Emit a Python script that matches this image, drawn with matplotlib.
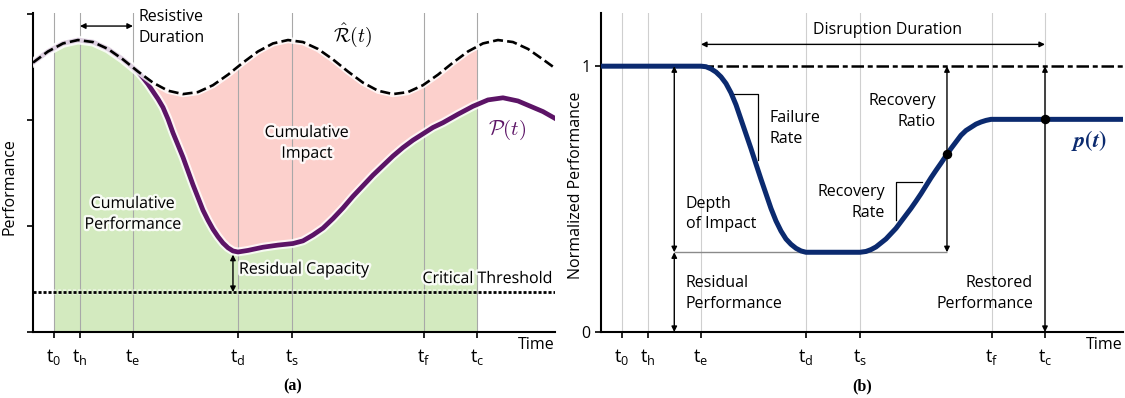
import matplotlib
matplotlib.use('Agg')
import matplotlib.pyplot as plt
import matplotlib.patches as mpatches
from matplotlib import patheffects as pe
import numpy as np

plt.rcParams['font.family'] = ['Open Sans', 'DejaVu Sans']
plt.rcParams['font.size'] = 11.5
plt.rcParams['mathtext.rm'] = 'Open Sans'
plt.rcParams['mathtext.it'] = 'Open Sans:italic'
plt.rcParams['mathtext.bf'] = 'Open Sans:bold'

# time marks shared by both panels
t_ticks = [2.1, 4.7, 10.0, 20.5, 25.9, 39.1, 44.4]
t_labels = [r'$\mathrm{t_0}$', r'$\mathrm{t_h}$', r'$\mathrm{t_e}$', r'$\mathrm{t_d}$',
            r'$\mathrm{t_s}$', r'$\mathrm{t_f}$', r'$\mathrm{t_c}$']
x_end = 52.2

# (a) expected performance R_hat(t)
r_x = [0, 1.5, 3.0, 4.5, 6.0, 7.5, 9.0, 10.5, 12.0, 13.5, 15.0, 16.5, 18.0, 19.5,
       21.0, 22.5, 24.0, 25.5, 27.0, 28.5, 30.0, 31.5, 33.0, 34.5, 36.0, 37.5, 39.0,
       40.5, 42.0, 43.5, 45.0, 46.5, 48.0, 49.5, 51.0, 52.2]
r_y = [2.542, 2.647, 2.723, 2.755, 2.736, 2.671, 2.572, 2.458, 2.353, 2.277, 2.245,
       2.264, 2.329, 2.428, 2.542, 2.647, 2.723, 2.755, 2.736, 2.671, 2.572, 2.458,
       2.353, 2.277, 2.245, 2.264, 2.329, 2.428, 2.542, 2.647, 2.723, 2.755, 2.736,
       2.671, 2.572, 2.49]

# (a) actual performance P(t)
p_x = [0, 1.5, 3.0, 4.5, 6.0, 7.5, 9.0, 10.5, 11.0, 11.5, 12.0, 12.5, 13.0, 13.5,
       14.0, 14.5, 15.0, 15.5, 16.0, 16.5, 17.0, 17.5, 18.0, 18.5, 19.0, 19.5, 20.0,
       20.5, 21.5, 23.0, 24.5, 26.0, 27.0, 28.0, 29.0, 30.0, 31.0, 32.0, 33.0, 34.0,
       35.0, 36.0, 37.0, 38.0, 39.0, 40.0, 41.0, 42.5, 44.0, 45.5, 47.0, 48.5, 50.0,
       51.0, 52.2]
p_y = [2.542, 2.647, 2.723, 2.755, 2.736, 2.671, 2.572, 2.455, 2.40, 2.34, 2.27, 2.20,
       2.12, 2.01, 1.88, 1.765, 1.65, 1.52, 1.39, 1.27, 1.15, 1.055, 0.97, 0.90, 0.84,
       0.795, 0.765, 0.755, 0.77, 0.80, 0.82, 0.835, 0.86, 0.915, 0.98, 1.07, 1.17,
       1.28, 1.38, 1.48, 1.57, 1.66, 1.74, 1.81, 1.87, 1.93, 1.975, 2.055, 2.13, 2.19,
       2.21, 2.18, 2.12, 2.08, 2.016]
critical = 0.377
p_min = 0.73

# (b) normalized performance p(t)
pb_x = [0, 10.0, 10.5, 11.0, 11.5, 12.0, 12.5, 13.0, 13.5, 14.0, 14.5, 15.0, 15.5,
        16.0, 16.5, 17.0, 17.5, 18.0, 18.5, 19.0, 19.5, 20.0, 20.5, 25.9, 26.5, 27.0,
        27.5, 28.0, 28.5, 29.0, 29.5, 30.0, 30.5, 31.0, 31.5, 32.0, 32.5, 33.0, 33.5,
        34.0, 34.5, 35.0, 35.5, 36.0, 36.5, 37.0, 37.5, 38.0, 38.5, 39.0, 52.2]
pb_y = [1.0, 1.0, 0.998, 0.99, 0.978, 0.96, 0.935, 0.90, 0.855, 0.80, 0.745, 0.69,
        0.632, 0.575, 0.52, 0.465, 0.418, 0.38, 0.35, 0.33, 0.315, 0.305, 0.30, 0.30,
        0.303, 0.31, 0.32, 0.335, 0.35, 0.37, 0.39, 0.415, 0.44, 0.465, 0.492, 0.52,
        0.55, 0.58, 0.608, 0.635, 0.663, 0.69, 0.715, 0.74, 0.758, 0.77, 0.782, 0.79,
        0.796, 0.80, 0.80]
baseline = 1.0
residual = 0.30
restored = 0.80
ratio_x, ratio_y = 34.6, 0.668
depth_x = 7.33

GREEN = '#d3eabf'
PINK = '#fcd0cc'
PURPLE = '#5c1466'
NAVY = '#0b2a6f'
glow = [pe.withStroke(linewidth=3.5, foreground='white', alpha=0.85)]


def style_axes(ax, ylim):
    ax.set_xlim(0, x_end)
    ax.set_ylim(*ylim)
    for s in ['top', 'right']:
        ax.spines[s].set_visible(False)
    for s in ['left', 'bottom']:
        ax.spines[s].set_linewidth(1.5)
    ax.set_xticks(t_ticks)
    ax.set_xticklabels(t_labels, math_fontfamily='custom', fontsize=13)
    ax.tick_params(axis='x', direction='out', length=4, width=1.2, pad=7)
    ax.tick_params(axis='y', direction='out', length=4, width=1.2, labelsize=11.5)
    ax.text(1.0, -0.015, 'Time', transform=ax.transAxes, ha='right', va='top')


def arrow(ax, x0, y0, x1, y1, style='<|-|>'):
    ax.annotate('', xy=(x1, y1), xytext=(x0, y0),
                arrowprops=dict(arrowstyle=style, color='black', lw=1.0,
                                shrinkA=0, shrinkB=0, mutation_scale=8))


fig = plt.figure(figsize=(11.25, 3.98), dpi=100)
ax1 = fig.add_axes([0.0293, 0.1658, 0.464, 0.8015])
ax2 = fig.add_axes([0.5342, 0.1658, 0.464, 0.8015])

# ---------------- panel (a) ----------------
style_axes(ax1, (0, 3.01))
ax1.set_yticks([0, 1, 2, 3])
ax1.set_yticklabels([])
ax1.set_ylabel('Performance')
ax1.yaxis.set_label_coords(-0.03, 0.455)

clip = mpatches.Rectangle((t_ticks[0], 0), t_ticks[-1] - t_ticks[0], 3.01,
                          transform=ax1.transData, fill=False, visible=False)
ax1.add_patch(clip)
green = ax1.fill_between(p_x, 0, p_y, color=GREEN, lw=0, zorder=0.5)
green.set_clip_path(clip)
pink = ax1.fill(np.concatenate([r_x, p_x[::-1]]), np.concatenate([r_y, p_y[::-1]]),
                color=PINK, lw=0, zorder=0.6)[0]
pink.set_clip_path(clip)

for t in t_ticks:
    ax1.axvline(t, color='#a8a8a8', lw=0.8, zorder=1)

ax1.axhline(critical, color='black', lw=2.0, ls=(0, (1.1, 0.7)), zorder=2,
            path_effects=[pe.withStroke(linewidth=4, foreground='white', alpha=0.5)])

ax1.plot(p_x, p_y, color=PURPLE, lw=3.4, zorder=3, solid_joinstyle='round',
         path_effects=[pe.withStroke(linewidth=6.4, foreground='white', alpha=0.8)])
ax1.plot(r_x, r_y, color='white', lw=4.5, alpha=0.8, zorder=3.5)
ax1.plot(r_x, r_y, color='black', lw=1.9, ls=(0, (3.8, 1.6)), zorder=4)

arrow(ax1, t_ticks[1], 2.887, t_ticks[2], 2.887)
ax1.text(10.6, 2.87, 'Resistive\nDuration', ha='left', va='center', linespacing=1.4)
ax1.text(30.0, 2.80, r'$\hat{\mathcal{R}}(t)$', math_fontfamily='cm', fontsize=14,
         ha='left', va='center')
ax1.text(45.5, 1.906, r'$\mathcal{P}(t)$', math_fontfamily='cm', fontsize=15,
         ha='left', va='center', color=PURPLE)
ax1.text(27.4, 1.78, 'Cumulative\nImpact', ha='center', va='center',
         linespacing=1.4, path_effects=glow)
ax1.text(10.0, 1.11, 'Cumulative\nPerformance', ha='center', va='center',
         linespacing=1.4, path_effects=glow)
arrow(ax1, 20.0, p_min, 20.0, critical)
ax1.text(20.6, 0.588, 'Residual Capacity', ha='left', va='center', path_effects=glow)
ax1.text(52.0, 0.50, 'Critical Threshold', ha='right', va='center', path_effects=glow)

# ---------------- panel (b) ----------------
style_axes(ax2, (0, 1.2))
ax2.set_yticks([0, 1])
ax2.set_yticklabels(['0', '1'])
ax2.set_ylabel('Normalized Performance')
ax2.yaxis.set_label_coords(-0.032, 0.461)

for t in t_ticks:
    ax2.axvline(t, color='#cfcfcf', lw=0.8, zorder=1)

ax2.hlines(baseline, t_ticks[2], x_end, color='black', lw=1.8,
           linestyles=[(0, (5, 1.5, 2, 1.5))], zorder=2)
ax2.hlines(residual, depth_x, ratio_x, color='#8a8a8a', lw=1.0, zorder=2)
ax2.plot(pb_x, pb_y, color=NAVY, lw=3.6, zorder=3, solid_capstyle='round',
         solid_joinstyle='round')

arrow(ax2, t_ticks[2], 1.082, t_ticks[-1], 1.082)
ax2.text(28.7, 1.135, 'Disruption Duration', ha='center', va='center')
arrow(ax2, depth_x, baseline, depth_x, residual)
arrow(ax2, depth_x, residual, depth_x, 0)
arrow(ax2, ratio_x, residual, ratio_x, baseline)
arrow(ax2, t_ticks[-1], 0, t_ticks[-1], baseline)
ax2.plot([ratio_x, t_ticks[-1]], [ratio_y, restored], 'o', color='black', ms=5.8, zorder=5)

# slope brackets
ax2.plot([13.23, 15.73, 15.73], [0.897, 0.897, 0.647], color='black', lw=0.9, zorder=2)
ax2.plot([32.07, 29.47, 29.47], [0.565, 0.565, 0.422], color='black', lw=0.9, zorder=2)

ax2.text(16.9, 0.766, 'Failure\nRate', ha='left', va='center', linespacing=1.4)
ax2.text(28.4, 0.486, 'Recovery\nRate', ha='right', va='center', linespacing=1.4)
ax2.text(33.47, 0.831, 'Recovery\nRatio', ha='right', va='center', linespacing=1.4)
ax2.text(8.47, 0.444, 'Depth\nof Impact', ha='left', va='center', linespacing=1.4)
ax2.text(8.47, 0.145, 'Residual\nPerformance', ha='left', va='center', linespacing=1.4)
ax2.text(43.2, 0.144, 'Restored\nPerformance', ha='right', va='center', linespacing=1.4)
ax2.text(47.0, 0.722, r'$\boldsymbol{p(t)}$', math_fontfamily='stix', fontsize=16,
         ha='left', va='center', color=NAVY)

fig.text(0.2604, 0.03, '(a)', ha='center', va='center', fontsize=11.5,
         fontfamily='Liberation Serif', weight='bold')
fig.text(0.766, 0.03, '(b)', ha='center', va='center', fontsize=11.5,
         fontfamily='Liberation Serif', weight='bold')

fig.savefig('out.png', dpi=100)
